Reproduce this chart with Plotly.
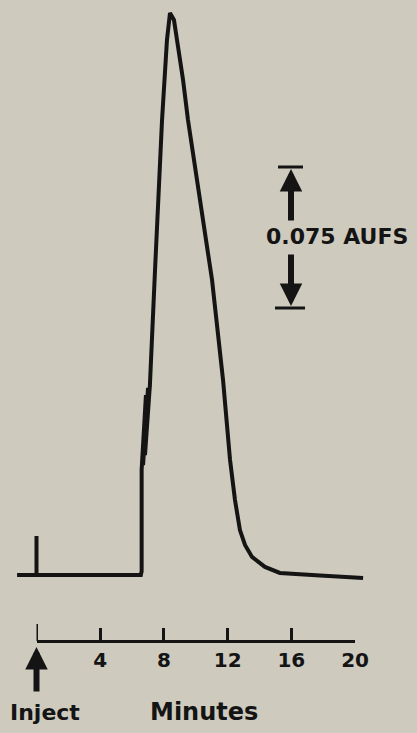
import plotly.graph_objects as go

# ---- data (time in minutes, detector response in AU) ----
time_min = [-1.22, 0.0, 0.0, 0.0, 6.55, 6.60, 6.60, 6.87, 6.69, 6.94, 6.75, 7.00, 6.81,
            7.12, 7.44, 7.88, 8.19, 8.38, 8.63, 9.20, 9.51, 10.08, 11.02, 11.71, 12.15,
            12.46, 12.77, 13.09, 13.53, 14.34, 15.28, 17.80, 20.50]
absorb_au = [0.0, 0.0, 0.0207, 0.0, 0.0, 0.0020, 0.0559, 0.0957, 0.0585, 0.0973, 0.0612,
             0.0995, 0.0638, 0.1011, 0.1622, 0.2420, 0.2846, 0.2989, 0.2952, 0.2633,
             0.2420, 0.2101, 0.1569, 0.1037, 0.0612, 0.0399, 0.0239, 0.0160, 0.0096,
             0.0043, 0.0011, -0.0003, -0.0016]
tick_vals = [0, 4, 8, 12, 16, 20]
tick_text = ["", "4", "8", "12", "16", "20"]
scale_bar_au = 0.075
scale_label = "0.075 AUFS"

W, H = 417, 733
BG = "rgb(206,202,190)"
INK = "#141414"
FONT = "DejaVu Sans"

# pixel mapping constants
x0_px, px_per_min = 36.5, 15.93
base_px, px_per_au = 575.0, 1880.0
x_range = [-x0_px / px_per_min, (W - x0_px) / px_per_min]
y_range = [(base_px - H) / px_per_au, base_px / px_per_au]
axis_y_px = 641

fig = go.Figure()
fig.add_trace(go.Scatter(x=time_min, y=absorb_au, mode="lines",
                         line=dict(color=INK, width=4), hoverinfo="skip",
                         showlegend=False))
# invisible trace to carry the time scale axis
fig.add_trace(go.Scatter(x=[tick_vals[0], tick_vals[-1]], y=[0, 0], xaxis="x2",
                         mode="markers", marker=dict(opacity=0), hoverinfo="skip",
                         showlegend=False))

fig.update_layout(
    width=W, height=H, autosize=False,
    margin=dict(l=0, r=0, t=0, b=0, pad=0, autoexpand=False),
    paper_bgcolor=BG, plot_bgcolor="rgba(0,0,0,0)",
    xaxis=dict(range=x_range, visible=False, domain=[0, 1], automargin=False),
    yaxis=dict(range=y_range, visible=False, domain=[0, 1], automargin=False),
    xaxis2=dict(domain=[x0_px / W, (x0_px + 20 * px_per_min) / W], range=[0, 20],
                anchor="free", position=(H - axis_y_px) / H, automargin=False,
                showline=True, linecolor=INK, linewidth=3,
                ticks="inside", ticklen=12, tickwidth=3, tickcolor=INK,
                tickvals=tick_vals, ticktext=tick_text,
                tickfont=dict(family=FONT, size=20, color=INK, weight="bold"),
                showgrid=False, zeroline=False),
    font=dict(family=FONT, color=INK),
    showlegend=False,
)

# taller tick at injection point
fig.add_shape(type="line", xref="x2", yref="paper", x0=0, x1=0,
              y0=(H - axis_y_px) / H, y1=(H - 624) / H,
              line=dict(color=INK, width=3))

def py(p):
    return (base_px - p) / px_per_au

def pxt(p):
    return (p - x0_px) / px_per_min

# scale bar
top_au = py(167)
bot_au = top_au - scale_bar_au
bar_t = pxt(291)
fig.add_shape(type="line", x0=pxt(278), x1=pxt(303), y0=top_au, y1=top_au,
              line=dict(color=INK, width=3))
fig.add_shape(type="line", x0=pxt(275), x1=pxt(305), y0=bot_au, y1=bot_au,
              line=dict(color=INK, width=3))
fig.add_annotation(x=bar_t, y=top_au - 2 / px_per_au, ax=bar_t, ay=py(222),
                   xref="x", yref="y", axref="x", ayref="y", text="",
                   showarrow=True, arrowhead=2, arrowsize=0.75, arrowwidth=6,
                   arrowcolor=INK)
fig.add_annotation(x=bar_t, y=bot_au + 2 / px_per_au, ax=bar_t, ay=py(253),
                   xref="x", yref="y", axref="x", ayref="y", text="",
                   showarrow=True, arrowhead=2, arrowsize=0.75, arrowwidth=6,
                   arrowcolor=INK)
fig.add_annotation(x=pxt(337), y=py(236), xref="x", yref="y", text=scale_label,
                   showarrow=False, xanchor="center", yanchor="middle",
                   font=dict(family=FONT, size=22, color=INK, weight="bold"))

# inject arrow and labels
fig.add_annotation(x=0, y=(H - 647) / H, xref="x2", yref="paper",
                   ax=0, ay=46, axref="pixel", ayref="pixel", text="",
                   showarrow=True, arrowhead=2, arrowsize=0.75, arrowwidth=6,
                   arrowcolor=INK)
fig.add_annotation(x=45 / W, y=(H - 712) / H, xref="paper", yref="paper",
                   text="Inject", showarrow=False, xanchor="center", yanchor="middle",
                   font=dict(family=FONT, size=22, color=INK, weight="bold"))
fig.add_annotation(x=204 / W, y=(H - 712) / H, xref="paper", yref="paper",
                   text="Minutes", showarrow=False, xanchor="center", yanchor="middle",
                   font=dict(family=FONT, size=24, color=INK, weight="bold"))

fig.write_html("out.html")
